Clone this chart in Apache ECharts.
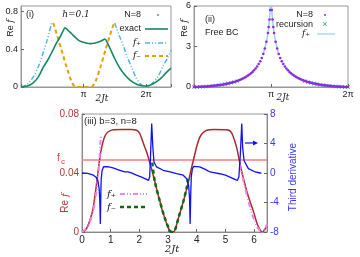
<!DOCTYPE html>
<html><head><meta charset="utf-8">
<script src="https://cdn.jsdelivr.net/npm/echarts@6/dist/echarts.min.js"></script>
<style>html,body{margin:0;padding:0;background:#fff}#c{width:360px;height:257px}</style>
</head><body><div id="c"></div>
<script>
// ---------- Panel (i): x in units of pi ----------
const exactX = [0,0.1,0.19,0.28,0.357,0.44,0.517,0.57,0.624,0.67,0.704,0.74,0.81,0.88,0.944,1.0,1.05,1.104,1.17,1.237,1.3,1.344,1.38,1.424,1.5,1.584,1.66,1.744,1.85,1.92,1.984,2.05,2.117,2.17,2.25,2.32,2.4];
const exactY = [0,0.01,0.04,0.11,0.21,0.3,0.4,0.47,0.53,0.59,0.628,0.61,0.565,0.52,0.487,0.475,0.466,0.46,0.465,0.477,0.495,0.51,0.47,0.41,0.3,0.197,0.13,0.074,0.03,0.015,0.01,0.017,0.035,0.056,0.1,0.15,0.2];
const fpLX = [0,0.1,0.2,0.28,0.357,0.42,0.49];
const fpLY = [0,0.03,0.11,0.22,0.37,0.5,0.68];
const fpRX = [1.5,1.57,1.637,1.7,1.77,1.84,1.9,1.95,2.0,2.05,2.117,2.2,2.277,2.34,2.4];
const fpRY = [0.68,0.55,0.44,0.32,0.21,0.1,0.04,0.01,0,0.01,0.05,0.12,0.23,0.3,0.39];
const fmX = [0.517,0.57,0.65,0.73,0.81,0.86,0.9,1.0,1.1,1.14,1.19,1.27,1.35,1.43,1.49];
const fmY = [0.68,0.565,0.39,0.21,0.056,0.005,0,0,0,0.005,0.056,0.21,0.39,0.565,0.68];

// ---------- Panel (ii): x in units of pi ----------
const nLX = [0,0.02,0.04,0.06,0.08,0.1,0.12,0.14,0.16,0.18,0.2,0.22,0.24,0.26,0.28,0.3,0.32,0.34,0.36,0.38,0.4,0.42,0.44,0.46,0.48,0.5,0.52,0.54,0.56,0.58,0.6,0.62,0.64,0.66,0.68,0.7,0.72,0.74,0.76,0.78,0.8,0.82,0.84,0.86,0.88,0.9,0.92,0.94,0.96,0.97,0.98,0.99];
const nLY = [0,0.002,0.005,0.009,0.014,0.02,0.026,0.033,0.041,0.05,0.06,0.07,0.082,0.095,0.108,0.122,0.137,0.153,0.17,0.19,0.21,0.232,0.256,0.282,0.31,0.34,0.373,0.408,0.447,0.49,0.535,0.585,0.64,0.7,0.77,0.845,0.93,1.02,1.12,1.24,1.37,1.52,1.7,1.9,2.15,2.45,2.85,3.35,4.0,4.45,5.0,5.7];
const nRX = [1.01,1.02,1.03,1.04,1.06,1.08,1.1,1.12,1.14,1.16,1.18,1.2,1.22,1.24,1.26,1.28,1.3,1.32,1.34,1.36,1.38,1.4,1.42,1.44,1.46,1.48,1.5,1.52,1.54,1.56,1.58,1.6,1.62,1.64,1.66,1.68,1.7,1.72,1.74,1.76,1.78,1.8,1.82,1.84,1.86,1.88,1.9,1.92,1.94,1.96,1.98,2.0];
const nRY = [5.7,5.0,4.45,4.0,3.35,2.85,2.45,2.15,1.9,1.7,1.52,1.37,1.24,1.12,1.02,0.93,0.845,0.77,0.7,0.64,0.585,0.535,0.49,0.447,0.408,0.373,0.34,0.31,0.282,0.256,0.232,0.21,0.19,0.17,0.153,0.137,0.122,0.108,0.095,0.082,0.07,0.06,0.05,0.041,0.033,0.026,0.02,0.014,0.009,0.005,0.002,0];
const recX = [0,0.04,0.08,0.12,0.16,0.2,0.24,0.28,0.32,0.36,0.4,0.44,0.48,0.52,0.56,1.44,1.48,1.52,1.56,1.6,1.64,1.68,1.72,1.76,1.8,1.84,1.88,1.92,1.96,2.0];
const recY = [0,0.005,0.014,0.026,0.041,0.06,0.082,0.108,0.137,0.17,0.21,0.256,0.31,0.373,0.447,0.447,0.373,0.31,0.256,0.21,0.17,0.137,0.108,0.082,0.06,0.041,0.026,0.014,0.005,0];
const fpIIX = [0.9,0.94,0.96,0.98,0.99,0.997,1.003,1.01,1.02,1.04,1.06,1.1];
const fpIIY = [2.45,3.35,4.0,5.0,5.7,7,7,5.7,5.0,4.0,3.35,2.45];

// ---------- Panel (iii) ----------
const refX = [0,0.1,0.2,0.3,0.385,0.47,0.56,0.62,0.678,0.73,0.79,0.87,0.97,1.1,1.4,1.7,1.9,2.0,2.08,2.16,2.25,2.37,2.45,2.54,2.63,2.72,2.8,2.89,2.98,3.07,3.15,3.23,3.36,3.53,3.62,3.71,3.8,3.9,4.0,4.1,4.2,4.35,4.6,5.0,5.12,5.22,5.31,5.4,5.48,5.57,5.66,5.75,5.87,5.98,6.1,6.21,6.28,6.35,6.45];
const refY = [0,0.0008,0.004,0.0095,0.0159,0.027,0.0409,0.05,0.0567,0.061,0.0646,0.0672,0.0686,0.0693,0.0695,0.0695,0.069,0.0672,0.0635,0.059,0.0544,0.0465,0.041,0.0341,0.027,0.0205,0.0145,0.0093,0.004,0.0008,0,0.0008,0.0093,0.0205,0.027,0.034,0.042,0.05,0.058,0.064,0.067,0.069,0.0695,0.0693,0.069,0.067,0.0625,0.0567,0.049,0.0409,0.034,0.0273,0.02,0.0138,0.006,0.0014,0,0.001,0.0045];
const pkLX = [0,0.21,0.385,0.5,0.56,0.6,0.64,0.66];
const pkLY = [0,0.004,0.0138,0.027,0.038,0.046,0.06,0.065];
const pkRX = [5.5,5.6,5.75,5.9,6.05,6.16,6.28,6.38,6.45];
const pkRY = [0.046,0.037,0.025,0.014,0.006,0.002,0,0.002,0.0052];
const gmX = [2.45,2.54,2.72,2.89,3.07,3.15,3.23,3.36,3.53,3.65,3.7];
const gmY = [0.047,0.0341,0.0205,0.0093,0.0008,0,0.0008,0.0093,0.0205,0.03,0.036];
const fcValue = 0.0488;
const tdX = [0,0.2,0.4,0.5,0.56,0.6,0.62,0.64,0.655,0.67,0.7,0.75,0.8,0.9,1.08,1.32,1.49,1.6,1.7,1.9,2.1,2.25,2.32,2.36,2.39,2.43,2.47,2.51,2.6,2.83,3.07,3.3,3.53,3.65,3.72,3.75,3.77,3.79,3.81,3.85,3.9,4.1,4.3,4.46,4.6,4.8,5.0,5.16,5.35,5.42,5.47,5.52,5.57,5.6,5.65,5.8,6.04,6.21,6.25];
const tdY = [0,-0.05,-0.3,-0.6,-1.2,-2.2,-3.8,-6.9,-3,-0.8,0.3,0.85,0.95,0.85,0.69,0.37,0.14,0.15,0.05,-0.3,-0.6,-0.86,-1.0,-0.5,2.4,6.7,3.5,1.5,0.82,0.37,0.14,-0.1,-0.3,-0.77,-1.8,-3.5,-6.9,-3,-0.5,0.6,0.9,0.82,0.5,0.14,0.05,-0.1,-0.3,-0.55,-0.9,-1.0,-0.5,2.5,6.7,3.5,1.7,0.6,0.14,0,0];

const zip = (a,b)=>a.map((v,i)=>[v,b[i]]);
const SANS = 'Liberation Sans';
const SERIF = 'DejaVu Serif';
const BC = '#999';
const tick = {inside:true,length:3,lineStyle:{color:'#666'}};
const lab = (c,s)=>({color:c||'#222',fontSize:s||9,fontFamily:SANS,margin:3});

const chart = echarts.init(document.getElementById('c'),null,{renderer:'canvas'});
const txt = (x,y,t,o)=>Object.assign({type:'text',x,y,style:Object.assign({text:t,fill:'#222',font:'9px '+SANS,align:'left',verticalAlign:'middle'},o&&o.style||{})},o&&o.el||{});
const ln = (x1,y1,x2,y2,c,w,d)=>({type:'line',shape:{x1,y1,x2,y2},style:{stroke:c,lineWidth:w,lineDash:d||null}});
const xmark = 'path://M0,1L1,0L5,4L9,0L10,1L6,5L10,9L9,10L5,6L1,10L0,9L4,5Z';

chart.setOption({
  animation:false,
  grid:[
    {left:21,top:6,width:150,height:81,show:true,borderColor:BC,borderWidth:1},
    {left:194,top:6,width:154,height:81,show:true,borderColor:BC,borderWidth:1},
    {left:82,top:114,width:185,height:118,show:true,borderColor:BC,borderWidth:1}
  ],
  xAxis:[
    {gridIndex:0,type:'value',min:0,max:2.4,interval:1,axisLine:{lineStyle:{color:BC}},axisTick:tick,splitLine:{show:false},
     axisLabel:Object.assign(lab(),{formatter:v=>v===1?'π':(v===2?'2π':'')})},
    {gridIndex:1,type:'value',min:0,max:2,interval:1,axisLine:{lineStyle:{color:BC}},axisTick:tick,splitLine:{show:false},
     axisLabel:Object.assign(lab(),{formatter:v=>v===1?'π':(v===2?'2π':'')})},
    {gridIndex:2,type:'value',min:0,max:6.45,interval:1,axisLine:{lineStyle:{color:'#888'}},axisTick:tick,splitLine:{show:false},
     axisLabel:Object.assign(lab('#222',10),{showMaxLabel:false})}
  ],
  yAxis:[
    {gridIndex:0,type:'value',min:0,max:0.86,interval:0.4,axisLine:{show:true,lineStyle:{color:BC}},axisTick:tick,splitLine:{show:false},
     axisLabel:Object.assign(lab(),{showMaxLabel:false})},
    {gridIndex:1,type:'value',min:0,max:6,interval:3,axisLine:{show:true,lineStyle:{color:BC}},axisTick:tick,splitLine:{show:false},
     axisLabel:lab()},
    {gridIndex:2,type:'value',min:0,max:0.08,interval:0.04,axisLine:{show:true,lineStyle:{color:'#888'}},axisTick:tick,splitLine:{show:false},
     axisLabel:Object.assign(lab('#b03a3a',10),{formatter:v=>v===0?'0':v.toFixed(2)})},
    {gridIndex:2,type:'value',position:'right',min:-8,max:8,interval:4,axisLine:{show:true,lineStyle:{color:'#888'}},axisTick:tick,splitLine:{show:false},
     axisLabel:lab('#3a3aff',10)}
  ],
  series:[
    {type:'line',xAxisIndex:0,yAxisIndex:0,data:zip(fpLX,fpLY),showSymbol:false,smooth:0.3,lineStyle:{color:'#56b4e9',width:1.5,type:[5,2,1,2,1,2]}},
    {type:'line',xAxisIndex:0,yAxisIndex:0,data:zip(fpRX,fpRY),showSymbol:false,smooth:0.3,lineStyle:{color:'#56b4e9',width:1.5,type:[5,2,1,2,1,2]}},
    {type:'line',xAxisIndex:0,yAxisIndex:0,data:zip(fmX,fmY),showSymbol:false,smooth:0.3,lineStyle:{color:'#e69f00',width:2,type:[4,3]}},
    {type:'line',xAxisIndex:0,yAxisIndex:0,data:zip(exactX,exactY),showSymbol:false,smooth:0.3,lineStyle:{color:'#138a60',width:1.6}},

    {type:'line',z:1,xAxisIndex:1,yAxisIndex:1,data:zip(fpIIX,fpIIY),showSymbol:false,smooth:0.2,lineStyle:{color:'#9ccfee',width:1.5},clip:true},
    {type:'scatter',z:3,xAxisIndex:1,yAxisIndex:1,data:zip(recX,recY),symbol:xmark,symbolSize:4,itemStyle:{color:'#2aa58a',opacity:1}},
    {type:'scatter',z:4,xAxisIndex:1,yAxisIndex:1,data:zip(nLX,nLY),symbol:'circle',symbolSize:2.6,itemStyle:{color:'#8a2be2',opacity:1}},
    {type:'scatter',z:4,xAxisIndex:1,yAxisIndex:1,data:zip(nRX,nRY),symbol:'circle',symbolSize:2.6,itemStyle:{color:'#8a2be2',opacity:1}},

    {type:'line',xAxisIndex:2,yAxisIndex:2,data:[[0,fcValue],[6.45,fcValue]],showSymbol:false,lineStyle:{color:'#f58080',width:1.5}},
    {type:'line',xAxisIndex:2,yAxisIndex:2,data:zip(refX,refY),showSymbol:false,smooth:0.3,lineStyle:{color:'#a82a2e',width:1.5}},
    {type:'line',xAxisIndex:2,yAxisIndex:2,data:zip(pkLX,pkLY),showSymbol:false,smooth:0.3,lineStyle:{color:'#ee82ee',width:2,type:[5,2,1,2,1,2]}},
    {type:'line',xAxisIndex:2,yAxisIndex:2,data:zip(pkRX,pkRY),showSymbol:false,smooth:0.3,lineStyle:{color:'#ee82ee',width:2,type:[5,2,1,2,1,2]}},
    {type:'line',xAxisIndex:2,yAxisIndex:2,data:zip(gmX,gmY),showSymbol:false,smooth:0.3,lineStyle:{color:'#0d6b0d',width:2.5,type:[4,3]}},
    {type:'line',xAxisIndex:2,yAxisIndex:3,data:zip(tdX,tdY),showSymbol:false,lineStyle:{color:'#1010ff',width:1.3}}
  ],
  graphic:[
    txt(26,15,'(i)',{style:{font:'9px '+SANS}}),
    txt(76,15,'h=0.1',{style:{font:'italic 9px '+SERIF,align:'center'}}),
    txt(141,15,'N=8',{style:{align:'right'}}),
    {type:'circle',shape:{cx:158,cy:15,r:0.8},style:{fill:'#222'}},
    txt(141,29,'exact',{style:{align:'right'}}),
    ln(145,29,168,29,'#138a60',1.6),
    txt(141,43,'f₊',{style:{align:'right',font:'italic 9px '+SERIF}}),
    ln(145,43,168,43,'#56b4e9',1.5,[5,2,1,2,1,2]),
    txt(141,56,'f₋',{style:{align:'right',font:'italic 9px '+SERIF}}),
    ln(145,56,168,56,'#e69f00',2,[4,3]),
    txt(11,28,'{a|Re }{b|f}',{el:{rotation:Math.PI/2},style:{align:'center',rich:{a:{font:'9px '+SANS,fill:'#222'},b:{font:'italic 9px '+SERIF,fill:'#222'}}}}),
    txt(102,99,'2Jt',{style:{align:'center',font:'italic 9px '+SERIF}}),
    txt(205,20,'(ii)',{style:{font:'9px '+SANS}}),
    txt(205,33,'Free BC',{style:{font:'9px '+SANS}}),
    txt(313,15,'N=8',{style:{align:'right'}}),
    {type:'circle',shape:{cx:325,cy:15,r:1},style:{fill:'#8a2be2'}},
    txt(313,25,'recursion',{style:{align:'right'}}),
    {type:'text',x:325,y:25,style:{text:'×',fill:'#2aa58a',font:'9px '+SANS,align:'center',verticalAlign:'middle'}},
    txt(310,34,'f₊',{style:{align:'right',font:'italic 9px '+SERIF}}),
    ln(317,34,335,34,'#9ccfee',1.2),
    txt(185,28,'{a|Re }{b|f}',{el:{rotation:Math.PI/2},style:{align:'center',rich:{a:{font:'9px '+SANS,fill:'#222'},b:{font:'italic 9px '+SERIF,fill:'#222'}}}}),
    txt(283,98,'2Jt',{style:{align:'center',font:'italic 9px '+SERIF}}),
    txt(84,121,'(iii) b=3, n=8',{style:{font:'9.5px '+SANS}}),
    txt(116,194,'f₊',{style:{align:'right',font:'italic 10px '+SERIF}}),
    ln(120,194,147,194,'#ee82ee',2,[5,2,1,2,1,2]),
    txt(116,207,'f₋',{style:{align:'right',font:'italic 10px '+SERIF}}),
    ln(120,207,147,207,'#0d6b0d',2.5,[4,3]),
    txt(57,158,'f',{style:{fill:'#e04040',font:'10px '+SANS}}),
    txt(61,162,'c',{style:{fill:'#e04040',font:'8px '+SANS}}),
    txt(65,203,'{a|Re }{b|f}',{el:{rotation:Math.PI/2},style:{align:'center',rich:{a:{font:'10px '+SANS,fill:'#b03a3a'},b:{font:'italic 10px '+SERIF,fill:'#b03a3a'}}}}),
    txt(293,177,'Third derivative',{el:{rotation:Math.PI/2},style:{align:'center',fill:'#3a3aff',font:'10px '+SANS}}),
    txt(172,249,'2Jt',{style:{align:'center',font:'italic 10px '+SERIF}}),
    ln(245,143,254,143,'#1010ff',1.2),
    {type:'polygon',shape:{points:[[258,143],[253,140.5],[253,145.5]]},style:{fill:'#1010ff'}}
  ]
});
</script></body></html>
